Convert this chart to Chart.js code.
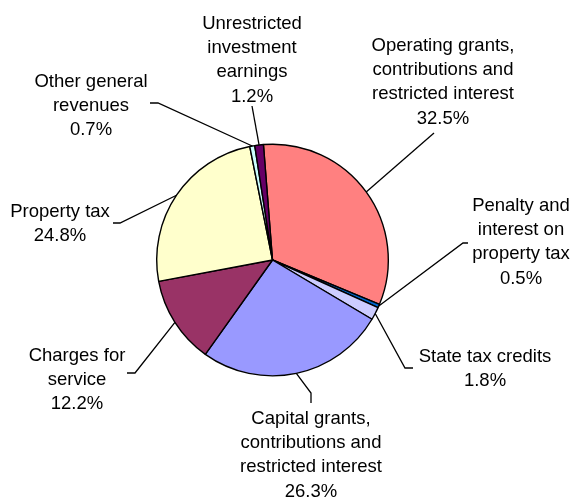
<!DOCTYPE html>
<html>
<head>
<meta charset="utf-8">
<script src="https://cdn.jsdelivr.net/npm/chart.js@4"></script>
<style>
  html, body { margin: 0; padding: 0; background: #fff; }
  #wrap { width: 573px; height: 501px; position: relative; }
</style>
</head>
<body>
<div id="wrap"><canvas id="revChart"></canvas></div>
<script>
// categories, in the order they go round the pie (clockwise from the top)
const categories = [
    ['Operating grants,', 'contributions and', 'restricted interest'],
    ['Penalty and', 'interest on', 'property tax'],
    ['State tax credits'],
    ['Capital grants,', 'contributions and', 'restricted interest'],
    ['Charges for', 'service'],
    ['Property tax'],
    ['Other general', 'revenues'],
    ['Unrestricted', 'investment', 'earnings']
];

// percent of total revenues
const shares = [32.5, 0.5, 1.8, 26.3, 12.2, 24.8, 0.7, 1.2];

const sliceColors = ['#FF8080', '#0066CC', '#CCCCFF', '#9999FF', '#993366', '#FFFFCC', '#CCFFFF', '#660066'];

// where each label sits: text centre x, first baseline y, leader line points after the slice edge
const labelLayout = [
    { x: 443, y: 51,  line: [[434, 133]] },
    { x: 521, y: 211, line: [[463, 243], [468, 243]] },
    { x: 485, y: 362, line: [[405, 368], [413, 368]] },
    { x: 311, y: 424, line: [[311, 393], [311, 403]] },
    { x: 77,  y: 361, line: [[135, 373], [127, 373]] },
    { x: 60,  y: 217, line: [[120, 223], [113, 223]] },
    { x: 91,  y: 87,  line: [[158, 103], [150, 103]] },
    { x: 252, y: 29,  line: [[252, 106]] }
];

// draws the outside labels and leader lines
const outsideLabels = {
    id: 'outsideLabels',
    afterDatasetsDraw(chart) {
        const ctx = chart.ctx;
        const arcs = chart.getDatasetMeta(0).data;
        ctx.save();
        arcs.forEach((arc, i) => {
            const p = arc.getProps(['x', 'y', 'startAngle', 'endAngle', 'outerRadius'], true);
            const mid = (p.startAngle + p.endAngle) / 2;
            const ax = p.x + Math.cos(mid) * p.outerRadius;
            const ay = p.y + Math.sin(mid) * p.outerRadius;
            const lay = labelLayout[i];

            ctx.strokeStyle = '#000';
            ctx.lineWidth = 1.3;
            ctx.beginPath();
            ctx.moveTo(ax, ay);
            lay.line.forEach(pt => ctx.lineTo(pt[0], pt[1]));
            ctx.stroke();

            const lines = categories[i].concat([shares[i].toFixed(1) + '%']);
            ctx.fillStyle = '#000';
            ctx.font = '18.5px "Liberation Sans", Arial, sans-serif';
            ctx.textAlign = 'center';
            ctx.textBaseline = 'alphabetic';
            lines.forEach((t, k) => ctx.fillText(t, lay.x, lay.y + k * 24.2));
        });
        ctx.restore();
    }
};

const revChart = new Chart(document.getElementById('revChart').getContext('2d'), {
    type: 'pie',
    data: {
        labels: categories.map(c => c.join(' ')),
        datasets: [{
            data: shares,
            backgroundColor: sliceColors,
            borderColor: '#000',
            borderWidth: 1.4,
            hoverOffset: 0
        }]
    },
    options: {
        responsive: true,
        maintainAspectRatio: false,
        animation: false,
        rotation: -4.5,
        layout: {
            padding: { left: 156, right: 184, top: 143, bottom: 124 }
        },
        plugins: {
            legend: { display: false },
            tooltip: { enabled: false }
        }
    },
    plugins: [outsideLabels]
});
</script>
</body>
</html>
